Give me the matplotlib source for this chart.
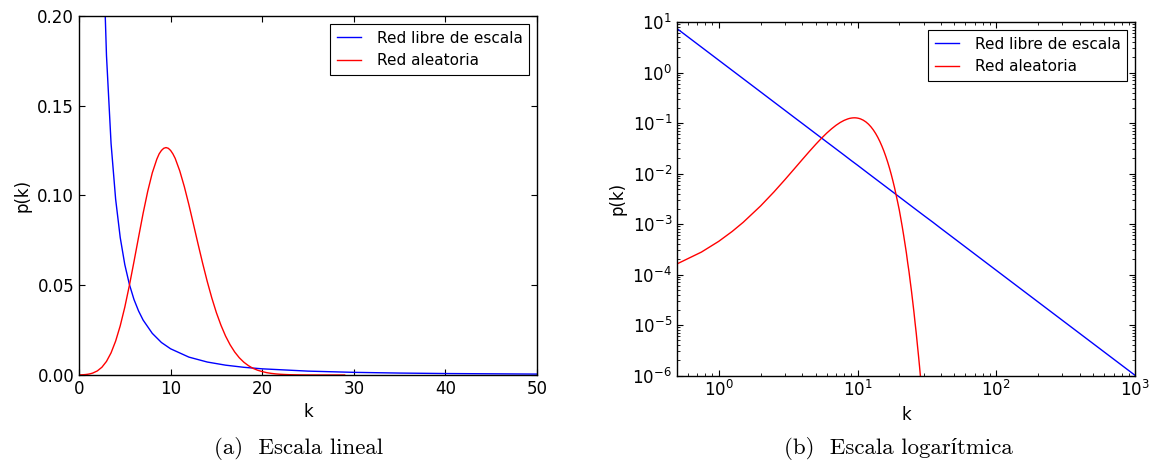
import matplotlib
matplotlib.use('Agg')
import matplotlib.pyplot as plt
from matplotlib.ticker import LogLocator, NullFormatter

# Red libre de escala (power law)
k_free = [0.5, 1, 2, 2.5, 3, 3.5, 4, 4.5, 5, 5.5, 6, 6.5, 7, 8, 9, 10, 12, 14, 16, 18, 20,
          25, 30, 35, 40, 50, 100, 1000]
p_free = [7.40, 1.75, 0.414, 0.260, 0.178, 0.129, 0.0979, 0.0766, 0.0615, 0.0505, 0.0421,
          0.0357, 0.0306, 0.0232, 0.0181, 0.0146, 0.00996, 0.00723, 0.00548, 0.00429, 0.00344,
          0.00216, 0.00148, 0.00108, 0.000814, 0.000512, 1.21e-4, 1.01e-6]

# Red aleatoria (Poisson-like bump, peak ~0.127 near k=9.5)
k_rand = [0, 0.5, 0.75, 1, 1.25, 1.5, 2, 2.5, 3, 3.5, 4, 4.5, 5, 5.5, 6, 6.5, 7, 7.5, 8, 8.5,
          8.75, 9, 9.25, 9.5, 9.75, 10, 10.25, 10.5, 11, 11.5, 12, 12.5, 13, 13.5, 14, 14.5,
          15, 15.5, 16, 16.5, 17, 17.5, 18, 18.5, 19, 19.5, 20, 20.5, 21, 21.5, 22, 22.5,
          23, 23.5, 24, 24.5, 25, 25.5, 26, 26.5, 27, 27.5, 28, 28.5, 29]
p_rand = [4.5e-5, 1.62e-4, 2.78e-4, 4.54e-4, 7.13e-4, 1.08e-3, 2.27e-3, 4.32e-3, 7.57e-3,
          0.01234, 0.0189, 0.0274, 0.0378, 0.0499, 0.0631, 0.0767, 0.0901, 0.1023, 0.1126,
          0.1203, 0.1232, 0.1251, 0.1263, 0.1267, 0.1263, 0.1251, 0.1232, 0.1207, 0.1137,
          0.1049, 0.0948, 0.0839, 0.0729, 0.0622, 0.0521, 0.0429, 0.0347, 0.0277, 0.0217,
          0.0168, 0.0128, 0.0096, 0.0071, 0.0052, 0.0037, 0.00266, 0.0019, 0.0013, 8.9e-4,
          6.0e-4, 4.0e-4, 2.68e-4, 1.7e-4, 1.14e-4, 7.2e-5, 4.65e-5, 2.9e-5, 1.82e-5, 1.1e-5,
          6.9e-6, 4.1e-6, 2.5e-6, 1.5e-6, 8.8e-7, 5.1e-7]

labels = ['Red libre de escala', 'Red aleatoria']
captions = ['(a)  Escala lineal', '(b)  Escala logarítmica']

plt.rcParams.update({
    'font.family': 'DejaVu Sans',
    'font.size': 12,
    'mathtext.fontset': 'dejavusans',
    'axes.unicode_minus': False,
    'xtick.direction': 'in',
    'ytick.direction': 'in',
    'xtick.top': True,
    'ytick.right': True,
    'xtick.major.size': 4,
    'ytick.major.size': 4,
    'xtick.minor.size': 2,
    'ytick.minor.size': 2,
    'axes.linewidth': 1.0,
})

W, H = 1155, 465
fig = plt.figure(figsize=(W / 100, H / 100), dpi=100)


def box(x0, y0, x1, y1):
    return [x0 / W, 1 - y1 / H, (x1 - x0) / W, (y1 - y0) / H]


ax1 = fig.add_axes(box(79, 16, 537, 375))
ax2 = fig.add_axes(box(677, 22, 1135, 375.5))

# linear panel
ax1.plot(k_free, p_free, color='b', lw=1.0, label=labels[0])
ax1.plot(k_rand, p_rand, color='r', lw=1.0, label=labels[1])
ax1.set_xlim(0, 50)
ax1.set_ylim(0, 0.2)
ax1.set_xticks([0, 10, 20, 30, 40, 50])
ax1.set_yticks([0.0, 0.05, 0.10, 0.15, 0.20])
ax1.set_xlabel('k')
ax1.set_ylabel('p(k)')

# log panel
ax2.plot(k_free, p_free, color='b', lw=1.0, label=labels[0])
ax2.plot(k_rand[1:], p_rand[1:], color='r', lw=1.0, label=labels[1])
ax2.set_xscale('log')
ax2.set_yscale('log')
ax2.set_xlim(0.5, 1000)
ax2.set_ylim(1e-6, 10)
for axis in (ax2.xaxis, ax2.yaxis):
    axis.set_major_locator(LogLocator(base=10, numticks=20))
    axis.set_minor_locator(LogLocator(base=10, subs=range(2, 10), numticks=100))
    axis.set_minor_formatter(NullFormatter())
ax2.set_xlabel('k')
ax2.set_ylabel('p(k)')

for ax in (ax1, ax2):
    leg = ax.legend(loc='upper right', fontsize=11, fancybox=False, framealpha=1,
                    handlelength=1.6, handletextpad=1.0, borderpad=0.45)
    leg.get_frame().set_edgecolor('black')
    leg.get_frame().set_linewidth(0.8)

for x, txt in zip([299, 898], captions):
    fig.text(x / W, 1 - 448 / H, txt, ha='center', va='center', fontsize=16.5,
             family=['cmr10', 'Liberation Serif'])

fig.savefig('out.png', dpi=100, facecolor='white')
